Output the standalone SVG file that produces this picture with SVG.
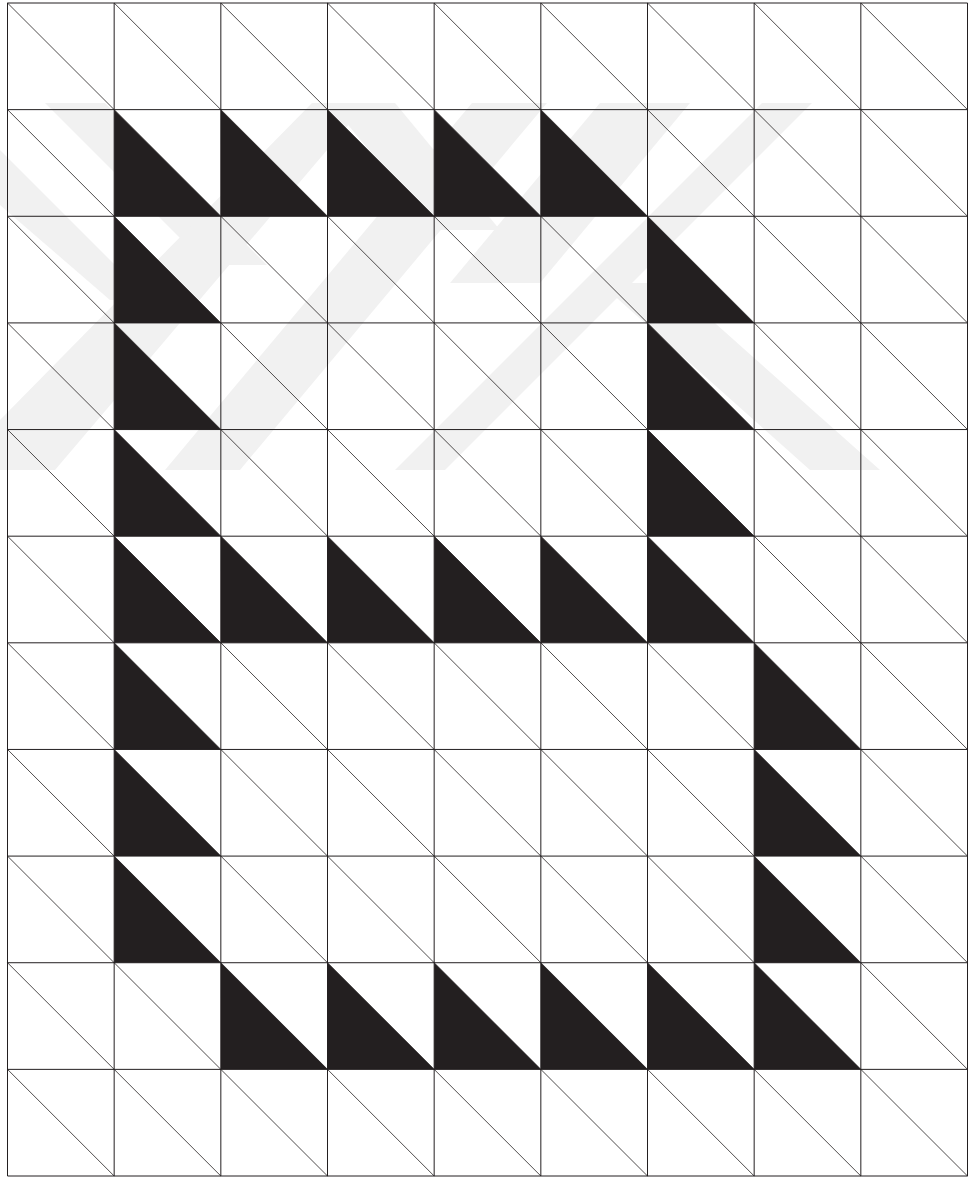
<svg xmlns="http://www.w3.org/2000/svg" width="968" height="1179" viewBox="0 0 968 1179">
<style>
.wm{fill:#f1f1f1}
.tri{fill:#231f20;stroke:none}
.grid{fill:none;stroke:#231f20;stroke-width:1}
.diag{fill:none;stroke:#231f20;stroke-width:0.8}
</style>
<rect width="968" height="1179" fill="#ffffff"/>
<g id="watermark">
<polygon class="wm" points="45,103 105,103 267,265 207,265"/>
<polygon class="wm" points="0,150 0,205 110,300 150,300"/>
<polygon class="wm" points="0,420 0,470 55,470 367,103 312,103"/>
<polygon class="wm" points="165,470 240,470 547,103 472,103"/>
<polygon class="wm" points="395,470 445,470 812,103 762,103"/>
<polygon class="wm" points="600,103 690,103 540,283 450,283"/>
<polygon class="wm" points="600,283 670,283 880,470 810,470"/>
<polygon class="wm" points="330,103 395,103 500,230 435,230"/>
</g>
<g id="filled-cells">
<polygon class="tri" points="114.17,109.64 114.17,216.27 220.83,216.27"/>
<polygon class="tri" points="220.83,109.64 220.83,216.27 327.5,216.27"/>
<polygon class="tri" points="327.5,109.64 327.5,216.27 434.17,216.27"/>
<polygon class="tri" points="434.17,109.64 434.17,216.27 540.83,216.27"/>
<polygon class="tri" points="540.83,109.64 540.83,216.27 647.5,216.27"/>
<polygon class="tri" points="114.17,216.27 114.17,322.91 220.83,322.91"/>
<polygon class="tri" points="647.5,216.27 647.5,322.91 754.17,322.91"/>
<polygon class="tri" points="114.17,322.91 114.17,429.55 220.83,429.55"/>
<polygon class="tri" points="647.5,322.91 647.5,429.55 754.17,429.55"/>
<polygon class="tri" points="114.17,429.55 114.17,536.18 220.83,536.18"/>
<polygon class="tri" points="647.5,429.55 647.5,536.18 754.17,536.18"/>
<polygon class="tri" points="114.17,536.18 114.17,642.82 220.83,642.82"/>
<polygon class="tri" points="220.83,536.18 220.83,642.82 327.5,642.82"/>
<polygon class="tri" points="327.5,536.18 327.5,642.82 434.17,642.82"/>
<polygon class="tri" points="434.17,536.18 434.17,642.82 540.83,642.82"/>
<polygon class="tri" points="540.83,536.18 540.83,642.82 647.5,642.82"/>
<polygon class="tri" points="647.5,536.18 647.5,642.82 754.17,642.82"/>
<polygon class="tri" points="114.17,642.82 114.17,749.45 220.83,749.45"/>
<polygon class="tri" points="754.17,642.82 754.17,749.45 860.83,749.45"/>
<polygon class="tri" points="114.17,749.45 114.17,856.09 220.83,856.09"/>
<polygon class="tri" points="754.17,749.45 754.17,856.09 860.83,856.09"/>
<polygon class="tri" points="114.17,856.09 114.17,962.73 220.83,962.73"/>
<polygon class="tri" points="754.17,856.09 754.17,962.73 860.83,962.73"/>
<polygon class="tri" points="220.83,962.73 220.83,1069.36 327.5,1069.36"/>
<polygon class="tri" points="327.5,962.73 327.5,1069.36 434.17,1069.36"/>
<polygon class="tri" points="434.17,962.73 434.17,1069.36 540.83,1069.36"/>
<polygon class="tri" points="540.83,962.73 540.83,1069.36 647.5,1069.36"/>
<polygon class="tri" points="647.5,962.73 647.5,1069.36 754.17,1069.36"/>
<polygon class="tri" points="754.17,962.73 754.17,1069.36 860.83,1069.36"/>
</g>
<g id="connectors">
<path class="diag" d="M7.5,3L967.5,962.73M7.5,109.64L967.5,1069.36M7.5,216.27L967.5,1176M7.5,322.91L860.83,1176M7.5,429.55L754.17,1176M7.5,536.18L647.5,1176M7.5,642.82L540.83,1176M7.5,749.45L434.17,1176M7.5,856.09L327.5,1176M7.5,962.73L220.83,1176M7.5,1069.36L114.17,1176M114.17,3L967.5,856.09M220.83,3L967.5,749.45M327.5,3L967.5,642.82M434.17,3L967.5,536.18M540.83,3L967.5,429.55M647.5,3L967.5,322.91M754.17,3L967.5,216.27M860.83,3L967.5,109.64"/>
<path class="grid" d="M7.5,3V1176M114.17,3V1176M220.83,3V1176M327.5,3V1176M434.17,3V1176M540.83,3V1176M647.5,3V1176M754.17,3V1176M860.83,3V1176M967.5,3V1176M7.5,3H967.5M7.5,109.64H967.5M7.5,216.27H967.5M7.5,322.91H967.5M7.5,429.55H967.5M7.5,536.18H967.5M7.5,642.82H967.5M7.5,749.45H967.5M7.5,856.09H967.5M7.5,962.73H967.5M7.5,1069.36H967.5M7.5,1176H967.5"/>
</g>
</svg>
